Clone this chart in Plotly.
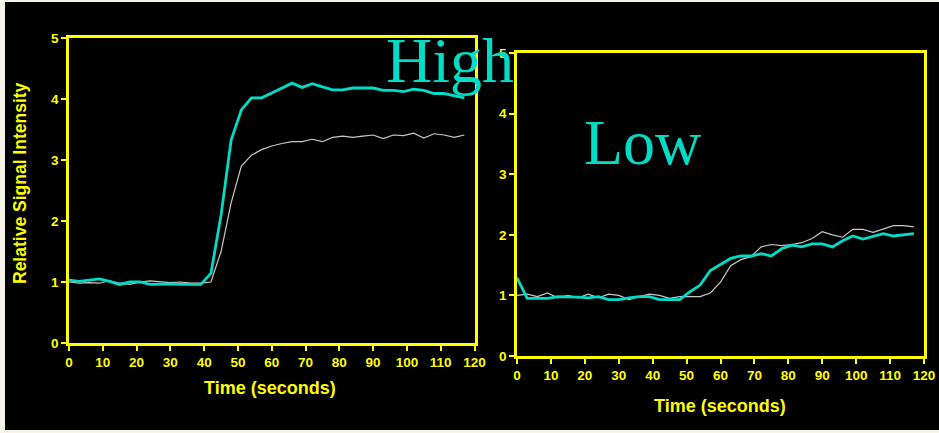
import plotly.graph_objects as go

time_s = [i * 3 for i in range(40)]

high_cyan = [1.03, 1.01, 1.03, 1.05, 1.01, 0.96, 1.0, 1.0, 0.96, 0.97, 0.97, 0.96, 0.96, 0.96,
             1.14, 2.1, 3.33, 3.82, 4.02, 4.02, 4.1, 4.18, 4.26, 4.19, 4.25, 4.2, 4.15, 4.15,
             4.18, 4.18, 4.18, 4.14, 4.14, 4.12, 4.16, 4.14, 4.09, 4.09, 4.05, 4.02]
high_gray = [1.0, 0.98, 0.99, 0.98, 1.02, 0.98, 0.96, 1.0, 1.02, 1.0, 0.99, 1.0, 0.98, 0.98,
             1.0, 1.5, 2.3, 2.9, 3.08, 3.17, 3.23, 3.27, 3.3, 3.3, 3.34, 3.3, 3.37, 3.39,
             3.37, 3.39, 3.41, 3.35, 3.41, 3.4, 3.44, 3.36, 3.43, 3.41, 3.37, 3.41]
low_cyan = [1.29, 0.95, 0.95, 0.95, 0.98, 0.98, 0.97, 0.96, 0.98, 0.93, 0.93, 0.96, 0.98, 0.98,
            0.93, 0.93, 0.93, 1.06, 1.17, 1.41, 1.51, 1.61, 1.65, 1.65, 1.69, 1.65, 1.77, 1.83,
            1.8, 1.85, 1.85, 1.8, 1.9, 1.98, 1.93, 1.98, 2.02, 1.98, 2.0, 2.02]
low_gray = [1.0, 1.02, 0.98, 1.04, 0.96, 1.0, 0.96, 1.02, 0.96, 1.02, 1.0, 0.93, 0.98, 1.02,
            1.0, 0.95, 0.98, 0.98, 0.98, 1.04, 1.22, 1.49, 1.59, 1.64, 1.8, 1.84, 1.82, 1.84,
            1.87, 1.94, 2.05, 2.0, 1.96, 2.09, 2.09, 2.04, 2.09, 2.15, 2.15, 2.13]

x_ticks = [0, 10, 20, 30, 40, 50, 60, 70, 80, 90, 100, 110, 120]
y_ticks = [0, 1, 2, 3, 4, 5]

W, H = 939, 433
YEL = "#ffff00"
CYAN = "#00dcc6"
GRAY = "#c8c8c8"

fig = go.Figure()
fig.add_trace(go.Scatter(x=time_s, y=high_gray, mode="lines", line=dict(color=GRAY, width=1.2),
                         xaxis="x", yaxis="y", showlegend=False))
fig.add_trace(go.Scatter(x=time_s, y=high_cyan, mode="lines", line=dict(color=CYAN, width=2.8),
                         xaxis="x", yaxis="y", showlegend=False))
fig.add_trace(go.Scatter(x=time_s, y=low_gray, mode="lines", line=dict(color=GRAY, width=1.2),
                         xaxis="x2", yaxis="y2", showlegend=False))
fig.add_trace(go.Scatter(x=time_s, y=low_cyan, mode="lines", line=dict(color=CYAN, width=2.8),
                         xaxis="x2", yaxis="y2", showlegend=False))

tickfont = dict(family="Liberation Sans, Arial", size=13.5, color=YEL, weight="bold")
ax_common = dict(showgrid=False, zeroline=False, showline=True, mirror=True, linecolor=YEL,
                 linewidth=2.5, ticks="outside", tickcolor=YEL, ticklen=5, tickwidth=1.5,
                 tickfont=tickfont, automargin=False, fixedrange=True)

def px_x(a, b):
    return [a / W, b / W]

def px_y(top, bottom):
    return [(H - bottom) / H, (H - top) / H]

fig.update_layout(
    width=W, height=H, margin=dict(l=0, r=0, t=0, b=0),
    paper_bgcolor="#f7f3e8", plot_bgcolor="#000000",
    xaxis=dict(domain=px_x(69, 474.5), range=[0, 120], tickvals=x_ticks, anchor="y", **ax_common),
    yaxis=dict(domain=px_y(38, 343), range=[0, 5], tickvals=y_ticks, anchor="x", **ax_common),
    xaxis2=dict(domain=px_x(517, 924), range=[0, 120], tickvals=x_ticks, anchor="y2", **ax_common),
    yaxis2=dict(domain=px_y(53, 356), range=[0, 5], tickvals=y_ticks, anchor="x2", **ax_common),
    shapes=[dict(type="rect", xref="paper", yref="paper", x0=5 / W, x1=1, y0=3 / H, y1=1 - 2 / H,
                 fillcolor="#000000", line=dict(width=0), layer="below")],
)

title_font = dict(family="Liberation Sans, Arial", size=18, color=YEL, weight="bold")
ann = [
    dict(text="Relative Signal Intensity", x=20 / W, y=(H - 183) / H, textangle=-90,
         font=dict(family="Liberation Sans, Arial", size=17.5, color=YEL, weight="bold")),
    dict(text="Time (seconds)", x=270 / W, y=(H - 388) / H, font=title_font),
    dict(text="Time (seconds)", x=720 / W, y=(H - 406) / H, font=title_font),
    dict(text="High", x=384 / W, y=(H - 60) / H, xanchor="left",
         font=dict(family="Liberation Serif, Times New Roman", size=64, color=CYAN)),
    dict(text="Low", x=582 / W, y=(H - 142) / H, xanchor="left",
         font=dict(family="Liberation Serif, Times New Roman", size=64, color=CYAN)),
]
for a in ann:
    a.setdefault("xanchor", "center")
    a["xref"] = "paper"
    a["yref"] = "paper"
    a["yanchor"] = "middle"
    a["showarrow"] = False
fig.update_layout(annotations=ann)

fig.write_html("out.html", config={"displayModeBar": False},
               post_script="document.body.style.margin='0';document.body.style.overflow='hidden';")
